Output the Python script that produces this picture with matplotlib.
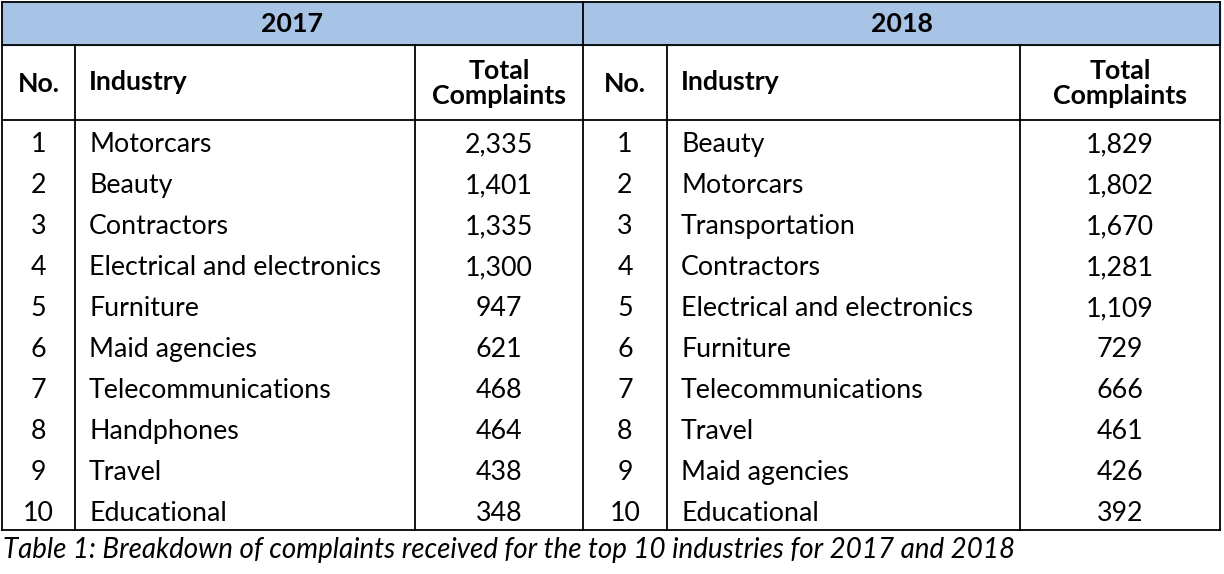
import matplotlib
matplotlib.use("Agg")
import matplotlib.pyplot as plt

years = ["2017", "2018"]
ranks = [str(i) for i in range(1, 11)]
industries_2017 = ["Motorcars", "Beauty", "Contractors", "Electrical and electronics", "Furniture",
                   "Maid agencies", "Telecommunications", "Handphones", "Travel", "Educational"]
complaints_2017 = [2335, 1401, 1335, 1300, 947, 621, 468, 464, 438, 348]
industries_2018 = ["Beauty", "Motorcars", "Transportation", "Contractors", "Electrical and electronics",
                   "Furniture", "Telecommunications", "Travel", "Maid agencies", "Educational"]
complaints_2018 = [1829, 1802, 1670, 1281, 1109, 729, 666, 461, 426, 392]
caption = "Table 1: Breakdown of complaints received for the top 10 industries for 2017 and 2018"

W, H = 1224, 574
fig = plt.figure(figsize=(W/100, H/100), dpi=100)
ax = fig.add_axes([0, 0, 1, 1])
ax.set_xlim(0, W); ax.set_ylim(H, 0); ax.axis("off")

FONT = "Lato"
FS = 19.3
left, right = 2, 1220
top, h1, h2 = 2, 45, 120
row_h = 41
bottom = h2 + row_h * 10
blocks = [(2, 75, 415, 583), (583, 667, 1020, 1220)]
blue = "#A7C4E6"

ax.add_patch(plt.Rectangle((left, top), right-left, h1-top, color=blue, zorder=0))
lw = 1.3
def hl(y, x0=left, x1=right): ax.plot([x0, x1], [y, y], color="black", lw=lw)
def vl(x, y0, y1): ax.plot([x, x], [y0, y1], color="black", lw=lw)
hl(top); hl(h1); hl(h2); hl(bottom)
vl(left, top, bottom); vl(right, top, bottom); vl(583, top, bottom)
for b in blocks:
    vl(b[1], h1, bottom); vl(b[2], h1, bottom)

data = [(industries_2017, complaints_2017), (industries_2018, complaints_2018)]
for yr, b, (ind, comp) in zip(years, blocks, data):
    x0, x1, x2, x3 = b
    ax.text((x0+x3)/2, (top+h1)/2 + 1, yr, ha="center", va="center", fontsize=FS, fontweight="bold", family=FONT)
    ym = (h1+h2)/2
    ax.text((x0+x1)/2, ym + 2, "No.", ha="center", va="center", fontsize=FS, fontweight="bold", family=FONT)
    ax.text(x1+14, ym, "Industry", ha="left", va="center", fontsize=FS, fontweight="bold", family=FONT)
    ax.text((x2+x3)/2, ym + 1, "Total\nComplaints", ha="center", va="center", fontsize=FS, fontweight="bold",
            family=FONT, linespacing=1.05)
    for i in range(10):
        y = h2 + row_h*(i+0.5) + 4
        ax.text((x0+x1)/2, y, ranks[i], ha="center", va="center", fontsize=FS, family=FONT)
        ax.text(x1+14, y, ind[i], ha="left", va="center", fontsize=FS, family=FONT)
        ax.text((x2+x3)/2, y, f"{comp[i]:,}", ha="center", va="center", fontsize=FS, family=FONT)

ax.text(3, 550, caption, ha="left", va="center", fontsize=20, style="italic", family=FONT)
fig.savefig("out.png", dpi=100)
